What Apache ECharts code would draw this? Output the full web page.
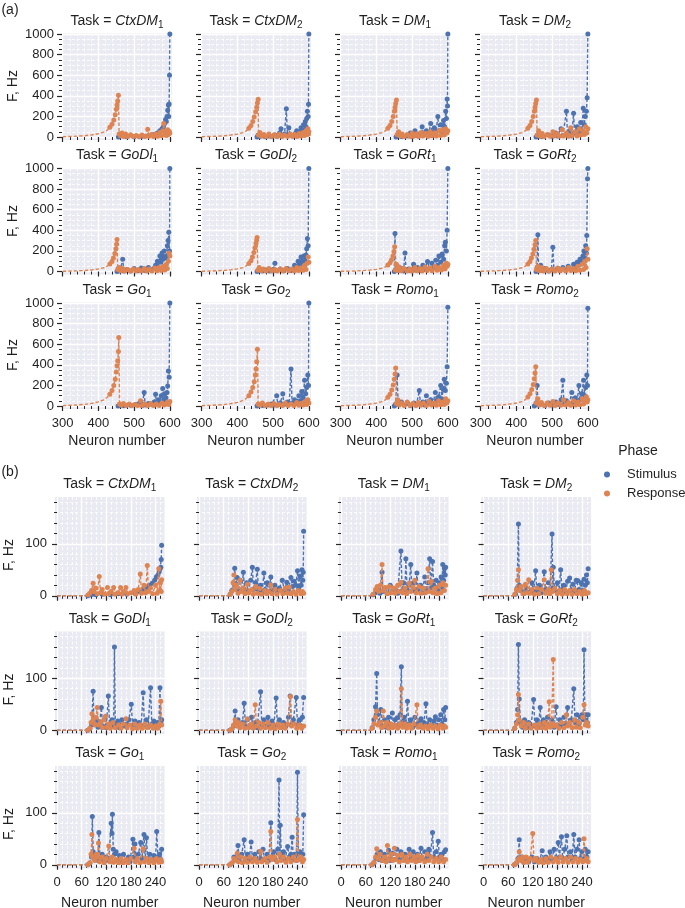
<!DOCTYPE html>
<html><head><meta charset="utf-8">
<script src="https://cdn.jsdelivr.net/npm/echarts@6/dist/echarts.min.js"></script>
<style>html,body{margin:0;padding:0;background:#fff}#c{width:685px;height:908px}</style>
</head><body><div id="c"></div>
<script>
// ---------- DATA ----------
const taskNames = [['CtxDM','1'],['CtxDM','2'],['DM','1'],['DM','2'],['GoDl','1'],['GoDl','2'],['GoRt','1'],['GoRt','2'],['Go','1'],['Go','2'],['Romo','1'],['Romo','2']];
const phaseNames = ['Stimulus','Response'];

const aXMajor = [300,400,500,600];
const aXMinor = [320,340,360,380,420,440,460,480,520,540,560,580];
const aYMajor = [0,200,400,600,800,1000];
const aYMinor = [50,100,150,250,300,350,450,500,550,650,700,750,850,900,950];
const bXMajor = [0,60,120,180,240];
const bXMinor = [12,24,36,48,72,84,96,108,132,144,156,168,192,204,216,228,252];
const bYMajor = [0,100];
const bYMinor = [20,40,60,80,120,140,160,180];

// panel (a): [neuron, F]
const a_CtxDM1_stim = [[456,0],[480,2],[500,3],[520,5],[540,12],[555,25],[565,40],[572,60],[578,80],[582,100],[585,130],[588,170],[590,150],[592,200],[594,260],[596,310],[597,200],[598,320],[599,600],[600,1000]];
const a_CtxDM1_resp = [[300,3],[330,6],[360,12],[380,20],[400,32],[415,48],[425,68],[432,95],[438,125],[443,165],[447,215],[450,270],[452,310],[454,350],[456,405],[458,30],[462,12],[466,40],[470,6],[476,30],[482,5],[490,22],[498,4],[506,15],[514,3],[522,20],[530,5],[538,75],[541,8],[548,25],[554,4],[560,30],[566,8],[572,45],[576,12],[580,60],[583,130],[585,20],[588,55],[591,15],[594,70],[596,25],[598,55],[600,40]];
const a_CtxDM2_stim = [[455,0],[458,20],[462,5],[470,15],[478,3],[488,10],[496,4],[505,20],[512,8],[518,40],[522,80],[525,10],[532,30],[537,275],[540,15],[544,90],[547,20],[555,10],[562,35],[566,60],[570,20],[575,50],[578,90],[582,40],[585,120],[588,70],[590,150],[592,100],[594,180],[596,250],[598,200],[599,317],[600,1000]];
const a_CtxDM2_resp = [[300,3],[330,6],[360,11],[380,18],[400,28],[415,42],[425,60],[432,85],[438,112],[443,150],[447,195],[451,245],[454,290],[456,330],[458,366],[459,20],[463,45],[467,8],[474,25],[480,5],[488,30],[495,6],[503,22],[510,4],[518,28],[525,6],[532,20],[540,4],[548,30],[554,8],[560,25],[567,6],[573,35],[578,10],[584,45],[588,15],[592,60],[595,25],[597,80],[599,30],[600,50]];
const a_DM1_stim = [[455,0],[470,5],[485,10],[495,40],[500,8],[508,60],[512,15],[520,30],[528,100],[532,20],[540,60],[545,10],[552,130],[556,40],[562,90],[566,20],[572,200],[575,60],[580,120],[584,50],[588,160],[591,100],[594,250],[596,180],[598,370],[599,300],[600,1000]];
const a_DM1_resp = [[300,3],[330,6],[360,11],[380,18],[400,28],[415,42],[425,60],[432,85],[438,112],[443,150],[447,200],[450,250],[452,290],[454,325],[456,360],[458,25],[462,50],[466,10],[472,30],[478,5],[486,25],[494,6],[500,40],[504,8],[512,30],[518,6],[525,45],[530,10],[538,35],[544,8],[550,50],[555,12],[562,40],[568,10],[575,60],[580,15],[585,70],[590,20],[594,80],[597,40],[600,60]];
const a_DM2_stim = [[455,0],[470,5],[490,20],[500,8],[510,40],[515,10],[525,80],[530,15],[540,250],[543,20],[550,60],[555,10],[560,230],[563,40],[570,100],[574,30],[580,140],[583,60],[587,280],[590,120],[593,200],[596,250],[598,380],[600,1000]];
const a_DM2_resp = [[300,3],[330,6],[360,11],[380,18],[400,28],[415,42],[425,60],[432,85],[438,112],[443,150],[447,200],[450,250],[452,290],[454,325],[456,360],[458,20],[462,60],[466,8],[472,35],[478,5],[486,25],[494,8],[502,50],[506,10],[514,35],[520,8],[528,70],[532,10],[540,40],[546,8],[552,90],[556,15],[564,50],[570,10],[576,80],[580,20],[586,60],[590,25],[594,100],[597,40],[600,80]];
const a_GoDl1_stim = [[452,0],[456,30],[460,5],[468,120],[471,5],[480,20],[490,5],[500,30],[510,8],[520,35],[530,10],[540,40],[548,15],[555,30],[560,60],[565,100],[568,40],[572,150],[575,90],[578,180],[581,120],[584,200],[587,130],[590,150],[593,250],[595,300],[597,380],[599,200],[600,1000]];
const a_GoDl1_resp = [[300,2],[330,5],[360,9],[380,15],[400,24],[415,36],[425,52],[432,72],[438,98],[442,130],[446,175],[449,220],[451,265],[452,310],[454,20],[458,40],[462,8],[468,30],[474,5],[482,20],[490,4],[498,25],[505,6],[512,20],[520,4],[528,30],[535,6],[542,25],[550,5],[558,35],[564,8],[570,40],[576,10],[582,50],[586,15],[590,70],[593,30],[596,100],[598,180],[600,150]];
const a_GoDl2_stim = [[455,0],[470,5],[480,15],[490,4],[500,20],[505,80],[508,10],[520,25],[530,8],[540,30],[550,10],[560,60],[565,30],[570,100],[574,60],[578,140],[582,90],[586,150],[589,110],[592,160],[594,220],[596,320],[598,250],[600,1000]];
const a_GoDl2_resp = [[300,2],[330,5],[360,10],[380,16],[400,26],[415,38],[425,55],[432,78],[438,105],[442,140],[446,185],[449,230],[452,275],[454,305],[455,330],[457,15],[461,40],[466,8],[472,25],[480,5],[488,30],[496,6],[504,20],[512,4],[520,25],[528,6],[536,30],[544,8],[552,25],[560,6],[566,40],[572,10],[578,35],[584,12],[588,60],[592,20],[595,80],[598,140],[600,90]];
const a_GoRt1_stim = [[450,0],[452,370],[454,20],[458,50],[462,10],[470,30],[476,5],[480,180],[483,10],[490,25],[497,8],[504,70],[508,15],[515,40],[522,10],[530,60],[535,20],[543,97],[548,30],[555,80],[560,40],[566,110],[571,60],[575,150],[580,90],[584,170],[588,120],[591,250],[593,285],[596,200],[598,400],[600,1000]];
const a_GoRt1_resp = [[300,2],[330,4],[360,8],[380,13],[400,21],[415,32],[425,45],[432,62],[438,85],[442,112],[446,150],[449,195],[451,240],[453,15],[456,70],[459,10],[464,45],[470,8],[478,30],[486,5],[494,25],[500,6],[508,40],[514,8],[522,30],[528,6],[536,45],[542,10],[550,35],[556,8],[564,50],[570,12],[576,40],[582,15],[588,60],[592,25],[596,80],[598,50],[600,70]];
const a_GoRt2_stim = [[455,0],[458,40],[460,356],[462,20],[468,60],[472,10],[480,30],[490,5],[498,20],[502,236],[505,10],[515,30],[522,8],[530,40],[538,15],[545,50],[552,20],[560,70],[565,40],[570,90],[574,60],[578,120],[582,80],[586,150],[589,200],[592,130],[594,250],[596,180],[597,350],[599,900],[600,1000]];
const a_GoRt2_resp = [[300,2],[330,5],[360,9],[380,15],[400,24],[415,36],[425,52],[432,72],[438,98],[442,130],[446,170],[449,215],[452,260],[454,300],[456,20],[460,50],[464,8],[470,40],[476,6],[484,30],[492,5],[500,25],[508,6],[516,35],[522,8],[530,25],[538,5],[546,40],[552,10],[560,30],[566,8],[572,50],[578,12],[584,70],[588,20],[592,100],[595,40],[598,220],[600,120]];
const a_Go1_stim = [[455,0],[470,3],[490,8],[505,15],[515,30],[522,5],[528,130],[531,10],[540,25],[550,15],[556,40],[560,113],[563,20],[568,60],[572,30],[576,100],[580,170],[583,60],[586,120],[589,80],[592,130],[594,195],[596,340],[598,280],[600,1000]];
const a_Go1_resp = [[300,4],[330,8],[360,15],[380,25],[400,40],[415,60],[425,85],[432,115],[438,150],[443,200],[447,260],[450,330],[452,390],[454,440],[456,530],[457,664],[459,20],[464,8],[470,25],[478,4],[486,20],[494,5],[502,15],[510,4],[518,50],[522,6],[530,20],[538,4],[546,25],[554,5],[562,20],[570,6],[578,30],[584,10],[590,20],[594,40],[597,15],[600,45]];
const a_Go2_stim = [[455,0],[470,5],[485,10],[495,20],[500,8],[510,100],[513,10],[520,30],[527,120],[530,15],[540,40],[545,20],[550,360],[553,30],[560,60],[565,25],[572,100],[576,50],[580,140],[584,80],[588,250],[591,120],[594,180],[597,300],[599,200],[600,1000]];
const a_Go2_resp = [[300,3],[330,7],[360,13],[380,22],[400,35],[415,52],[425,75],[432,100],[438,135],[443,180],[447,235],[450,300],[452,360],[454,430],[456,550],[458,20],[463,8],[470,30],[478,5],[486,20],[494,4],[502,25],[510,6],[518,15],[526,4],[534,30],[542,6],[550,20],[558,5],[566,35],[572,8],[578,25],[584,10],[590,45],[594,15],[597,60],[600,30]];
const a_Romo1_stim = [[450,0],[454,20],[458,300],[461,15],[470,40],[478,10],[488,25],[495,5],[505,30],[512,10],[520,150],[523,20],[530,40],[535,10],[540,100],[544,30],[552,60],[558,20],[565,130],[568,50],[574,90],[580,200],[583,70],[587,160],[590,260],[593,150],[596,220],[598,380],[600,960]];
const a_Romo1_resp = [[300,3],[330,6],[360,11],[380,18],[400,28],[415,42],[425,60],[432,85],[438,115],[443,155],[447,205],[450,260],[452,310],[454,370],[456,25],[460,60],[464,10],[470,30],[478,6],[486,40],[494,8],[502,25],[510,5],[518,35],[524,8],[532,30],[540,6],[548,45],[554,10],[562,30],[568,8],[574,50],[580,12],[586,40],[590,15],[594,70],[597,30],[600,50]];
const a_Romo2_stim = [[450,0],[455,30],[458,200],[461,10],[470,20],[480,5],[490,30],[500,10],[510,40],[518,15],[525,60],[530,250],[533,20],[540,50],[548,20],[555,130],[558,30],[565,80],[570,40],[575,200],[578,60],[583,120],[588,250],[591,100],[594,180],[597,300],[599,200],[600,950]];
const a_Romo2_resp = [[300,3],[330,6],[360,11],[380,18],[400,29],[415,43],[425,62],[432,88],[438,118],[443,160],[447,210],[450,265],[452,320],[454,380],[456,30],[460,70],[464,10],[470,35],[478,5],[486,30],[494,8],[502,45],[508,6],[516,30],[524,8],[532,60],[538,10],[546,35],[552,8],[560,50],[566,10],[572,40],[578,12],[584,70],[588,20],[592,50],[596,90],[598,40],[600,60]];

// panel (b): [neuron, F]
const b_CtxDM1_stim = [[0,0],[75,0],[82,2],[86,6],[88,3],[95,2],[110,3],[130,2],[150,4],[170,3],[190,5],[200,8],[210,12],[218,16],[225,20],[232,24],[238,30],[242,36],[246,40],[249,46],[251,52],[253,55],[254,70],[255,97]];
const b_CtxDM1_resp = [[0,0],[70,0],[76,2],[80,5],[84,10],[88,24],[90,8],[94,15],[98,4],[103,37],[106,6],[110,12],[116,3],[123,16],[126,4],[132,8],[138,16],[141,3],[148,6],[155,16],[158,3],[162,8],[168,16],[172,4],[180,6],[188,10],[192,3],[198,12],[203,42],[206,5],[212,20],[216,6],[220,58],[223,8],[228,15],[233,4],[240,20],[244,5],[248,52],[250,10],[252,25],[254,8],[255,31]];
const b_CtxDM2_stim = [[0,0],[72,0],[76,3],[80,10],[84,25],[87,53],[89,20],[93,35],[96,8],[100,30],[104,10],[108,45],[111,12],[116,25],[120,8],[126,30],[130,55],[133,12],[138,25],[142,51],[145,10],[150,20],[154,5],[158,44],[161,12],[166,25],[170,8],[175,36],[178,10],[185,20],[190,6],[196,15],[203,30],[208,10],[214,26],[218,12],[224,35],[228,18],[232,28],[236,20],[240,48],[243,15],[246,38],[249,20],[251,50],[253,30],[254,45],[255,124]];
const b_CtxDM2_resp = [[0,0],[72,0],[76,3],[80,8],[83,25],[85,40],[87,12],[91,20],[95,5],[100,30],[103,8],[108,15],[112,4],[118,22],[121,6],[128,12],[132,3],[138,18],[142,5],[148,14],[152,3],[160,10],[165,4],[170,8],[175,21],[178,4],[185,12],[190,3],[198,10],[204,4],[210,15],[215,5],[220,17],[224,4],[230,8],[236,3],[242,10],[248,4],[252,8],[255,5]];
const b_DM1_stim = [[0,0],[72,0],[78,2],[84,6],[90,10],[95,5],[100,45],[102,8],[108,15],[114,5],[120,20],[126,8],[132,12],[138,5],[146,86],[149,10],[152,25],[156,8],[158,71],[161,12],[166,20],[170,60],[173,10],[178,25],[182,8],[185,44],[188,12],[194,20],[198,6],[204,36],[208,10],[212,25],[216,71],[219,15],[223,66],[226,20],[232,30],[236,10],[240,25],[244,36],[246,15],[248,60],[250,30],[252,52],[254,40],[255,55]];
const b_DM1_resp = [[0,0],[72,0],[78,3],[84,12],[88,18],[92,8],[96,20],[100,60],[102,10],[108,16],[112,4],[118,18],[122,6],[128,15],[132,5],[138,20],[142,8],[146,26],[150,6],[156,15],[160,4],[166,24],[170,8],[176,16],[180,30],[183,6],[190,18],[194,5],[200,15],[206,6],[212,52],[215,8],[220,28],[224,6],[230,15],[234,4],[240,20],[244,6],[248,25],[252,10],[255,20]];
const b_DM2_stim = [[0,0],[72,0],[78,3],[82,15],[85,138],[87,20],[92,10],[98,4],[104,15],[110,6],[118,25],[122,8],[127,48],[130,10],[136,20],[140,6],[148,46],[151,12],[158,25],[162,8],[167,119],[169,15],[170,55],[173,10],[180,25],[184,8],[188,50],[191,12],[196,20],[200,8],[205,28],[210,34],[213,10],[218,22],[222,8],[226,30],[230,29],[233,12],[238,25],[242,10],[245,32],[248,20],[251,40],[253,25],[255,52]];
const b_DM2_resp = [[0,0],[72,0],[76,3],[80,12],[83,30],[85,50],[87,10],[92,18],[96,4],[102,22],[106,6],[110,31],[113,5],[118,12],[124,3],[130,15],[135,4],[142,12],[148,31],[151,5],[158,12],[162,4],[165,50],[168,8],[174,14],[180,4],[186,10],[192,3],[198,12],[204,4],[210,10],[216,3],[222,12],[228,4],[234,8],[240,3],[246,10],[250,4],[255,6]];
const b_GoDl1_stim = [[0,0],[75,0],[80,3],[84,10],[88,75],[90,12],[96,20],[100,6],[104,15],[108,44],[111,8],[116,20],[120,5],[125,66],[128,10],[134,20],[138,8],[140,160],[142,12],[148,18],[152,5],[158,20],[164,8],[170,12],[175,20],[181,50],[184,10],[190,18],[195,5],[200,15],[205,8],[210,72],[213,10],[218,20],[222,6],[228,82],[231,12],[236,18],[240,6],[245,15],[248,8],[251,82],[253,15],[255,20]];
const b_GoDl1_resp = [[0,0],[75,0],[80,4],[83,15],[85,32],[88,20],[92,10],[95,25],[98,44],[101,10],[106,15],[110,5],[114,20],[118,27],[121,6],[126,12],[130,4],[136,15],[142,5],[150,10],[156,4],[162,12],[168,22],[171,5],[178,10],[184,3],[190,12],[196,4],[202,10],[208,4],[214,12],[220,5],[228,10],[234,4],[240,8],[246,4],[250,12],[253,56],[255,10]];
const b_GoDl2_stim = [[0,0],[75,0],[80,2],[84,8],[88,37],[90,10],[95,20],[100,5],[106,15],[110,52],[113,8],[118,20],[122,6],[128,25],[132,8],[138,15],[142,5],[150,74],[153,10],[158,20],[162,6],[168,25],[172,8],[178,18],[182,6],[188,62],[191,10],[196,20],[200,6],[206,15],[212,8],[218,25],[222,66],[225,10],[230,20],[237,63],[240,10],[245,20],[249,8],[252,25],[255,63]];
const b_GoDl2_resp = [[0,0],[75,0],[80,3],[84,10],[88,20],[92,8],[96,15],[100,5],[106,12],[112,4],[118,22],[121,6],[128,12],[132,4],[137,49],[140,8],[146,15],[150,4],[156,12],[162,5],[168,15],[174,4],[180,10],[186,3],[192,12],[198,5],[204,10],[210,4],[216,12],[223,65],[226,8],[232,12],[238,4],[244,10],[250,4],[255,8]];
const b_GoRt1_stim = [[0,0],[72,0],[76,5],[80,20],[84,45],[87,109],[89,30],[93,15],[97,40],[100,8],[106,20],[110,6],[116,25],[120,10],[125,33],[128,8],[132,20],[137,24],[140,8],[144,30],[147,122],[149,15],[154,25],[158,8],[162,56],[165,12],[170,20],[175,6],[180,25],[185,10],[190,18],[195,22],[198,6],[202,15],[207,51],[210,10],[216,20],[222,8],[226,18],[230,26],[233,10],[238,20],[243,30],[246,12],[250,40],[253,20],[255,44]];
const b_GoRt1_resp = [[0,0],[72,0],[76,4],[80,12],[84,25],[87,37],[90,10],[95,15],[99,5],[103,37],[106,8],[112,15],[116,4],[122,12],[126,5],[132,10],[138,4],[144,12],[147,80],[150,6],[156,12],[160,4],[166,10],[172,4],[178,12],[185,49],[188,6],[194,10],[200,4],[206,8],[212,3],[218,10],[224,4],[230,8],[236,3],[242,10],[248,4],[252,8],[255,6]];
const b_GoRt2_stim = [[0,0],[72,0],[76,4],[80,15],[83,40],[85,165],[87,60],[90,15],[95,6],[100,20],[105,5],[110,15],[116,8],[122,59],[125,8],[130,20],[134,6],[138,44],[141,10],[146,20],[150,6],[156,25],[160,8],[166,20],[172,6],[177,45],[180,10],[186,20],[190,8],[196,25],[200,10],[205,44],[208,12],[214,20],[220,80],[223,15],[228,30],[232,12],[236,25],[240,30],[243,20],[245,155],[247,20],[250,30],[253,15],[255,30]];
const b_GoRt2_resp = [[0,0],[72,0],[76,4],[80,12],[83,30],[85,69],[87,20],[92,8],[98,15],[102,4],[110,12],[116,4],[124,10],[130,4],[136,12],[142,5],[148,15],[152,4],[156,10],[160,55],[163,6],[166,12],[170,136],[172,8],[178,10],[184,4],[190,15],[196,5],[202,30],[205,8],[210,15],[216,5],[222,20],[226,6],[232,15],[236,5],[242,25],[245,49],[248,10],[252,15],[255,8]];
const b_Go1_stim = [[0,0],[75,0],[80,3],[84,15],[86,93],[88,25],[92,10],[96,20],[100,8],[102,62],[105,10],[110,20],[115,6],[120,15],[126,8],[132,80],[134,60],[135,97],[137,30],[140,20],[144,25],[148,8],[152,18],[156,6],[162,20],[168,8],[174,15],[178,6],[185,49],[187,15],[190,40],[193,10],[198,20],[204,43],[207,12],[212,58],[215,10],[218,52],[221,10],[226,20],[230,8],[236,18],[240,10],[243,64],[246,15],[250,20],[253,10],[255,30]];
const b_Go1_resp = [[0,0],[75,0],[80,4],[83,20],[85,58],[87,15],[92,8],[96,20],[98,15],[101,42],[104,6],[110,15],[115,4],[120,12],[126,36],[129,6],[134,15],[138,5],[144,10],[150,4],[156,12],[162,4],[168,10],[174,4],[180,12],[188,32],[191,6],[196,12],[202,4],[210,31],[213,6],[218,12],[224,4],[230,10],[236,4],[242,12],[248,5],[252,10],[255,6]];
const b_Go2_stim = [[0,0],[75,0],[80,3],[85,15],[90,10],[95,37],[98,8],[104,20],[110,48],[113,10],[118,20],[122,8],[127,44],[130,10],[136,20],[140,8],[146,25],[150,12],[156,30],[160,10],[166,20],[170,8],[175,81],[177,15],[182,25],[186,10],[192,30],[195,163],[197,20],[198,76],[201,12],[206,25],[210,10],[216,35],[220,15],[224,20],[227,53],[230,10],[234,20],[238,8],[240,178],[242,20],[246,25],[250,10],[253,20],[255,96]];
const b_Go2_resp = [[0,0],[75,0],[80,4],[85,12],[90,8],[93,22],[96,6],[102,15],[106,4],[112,12],[118,5],[124,15],[130,6],[136,12],[142,5],[150,26],[153,6],[160,12],[166,5],[172,15],[175,64],[178,10],[184,15],[190,6],[196,20],[200,8],[206,15],[212,5],[218,12],[224,6],[230,15],[236,8],[240,87],[243,10],[248,15],[252,6],[255,10]];
const b_Romo1_stim = [[0,0],[75,0],[80,3],[85,12],[88,20],[92,10],[96,25],[100,8],[106,20],[110,10],[116,28],[120,8],[126,22],[130,10],[136,30],[140,12],[146,25],[150,10],[156,20],[160,8],[166,30],[170,12],[176,25],[180,10],[186,20],[190,8],[195,32],[198,12],[204,25],[208,10],[214,30],[218,15],[223,62],[226,15],[232,25],[237,45],[240,15],[245,20],[248,10],[252,25],[255,29]];
const b_Romo1_resp = [[0,0],[75,0],[80,5],[84,15],[87,31],[90,12],[95,20],[100,8],[106,15],[110,6],[113,37],[116,10],[122,20],[126,8],[130,32],[133,10],[138,18],[142,6],[148,20],[152,8],[158,15],[162,6],[168,20],[172,8],[178,15],[182,6],[188,18],[192,8],[198,15],[204,6],[210,20],[214,8],[220,15],[226,6],[232,12],[238,6],[244,15],[250,6],[255,10]];
const b_Romo2_stim = [[0,0],[75,0],[80,3],[84,12],[87,48],[89,12],[94,15],[98,5],[104,12],[110,6],[118,15],[124,6],[130,12],[136,6],[143,27],[146,8],[152,15],[156,6],[162,25],[166,10],[172,30],[176,12],[182,43],[185,15],[190,54],[193,12],[198,30],[203,56],[206,15],[212,25],[216,10],[220,58],[223,15],[228,30],[233,48],[236,12],[240,25],[244,10],[248,30],[252,15],[255,25]];
const b_Romo2_resp = [[0,0],[75,0],[80,4],[84,10],[87,25],[90,8],[95,15],[98,5],[104,15],[108,5],[114,12],[120,60],[123,8],[128,12],[134,5],[140,10],[146,4],[152,12],[158,5],[164,15],[170,6],[176,12],[182,5],[188,15],[194,6],[200,12],[206,5],[212,15],[218,6],[224,12],[230,5],[236,10],[242,6],[245,50],[248,8],[252,12],[255,6]];

const aStim = [a_CtxDM1_stim,a_CtxDM2_stim,a_DM1_stim,a_DM2_stim,a_GoDl1_stim,a_GoDl2_stim,a_GoRt1_stim,a_GoRt2_stim,a_Go1_stim,a_Go2_stim,a_Romo1_stim,a_Romo2_stim];
const aResp = [a_CtxDM1_resp,a_CtxDM2_resp,a_DM1_resp,a_DM2_resp,a_GoDl1_resp,a_GoDl2_resp,a_GoRt1_resp,a_GoRt2_resp,a_Go1_resp,a_Go2_resp,a_Romo1_resp,a_Romo2_resp];
const bStim = [b_CtxDM1_stim,b_CtxDM2_stim,b_DM1_stim,b_DM2_stim,b_GoDl1_stim,b_GoDl2_stim,b_GoRt1_stim,b_GoRt2_stim,b_Go1_stim,b_Go2_stim,b_Romo1_stim,b_Romo2_stim];
const bResp = [b_CtxDM1_resp,b_CtxDM2_resp,b_DM1_resp,b_DM2_resp,b_GoDl1_resp,b_GoDl2_resp,b_GoRt1_resp,b_GoRt2_resp,b_Go1_resp,b_Go2_resp,b_Romo1_resp,b_Romo2_resp];

// ---------- LAYOUT / STYLE ----------
const FONT = '"Liberation Sans", Arial, Helvetica, sans-serif';
const TXT = '#1f1f1f';
const BLUE = '#4c72b0', ORANGE = '#dd8452';
const LAYOUT = {
  a: {lefts:[62,201,340,480], tops:[33.5,168,302.5], w:110, h:106.6, xmin:298, xmax:606, ymin:-30, ymax:1005,
      xMaj:aXMajor, xMin:aXMinor, yMaj:aYMajor, yMin:aYMinor, hideX:428, nameX:13, nameYs:[86,221,355], xNameY:441},
  b: {lefts:[55,197,339,481.5], tops:[497,631.5,766], w:109.5, h:102.4, xmin:-5, xmax:262, ymin:-7, ymax:190,
      xMaj:bXMajor, xMin:bXMinor, yMaj:bYMajor, yMin:bYMinor, hideX:74, nameX:9, nameYs:[555,689.5,824], xNameY:903}
};

const option = {animation:false, grid:[], xAxis:[], yAxis:[], series:[], graphic:[],
  legend:{data:phaseNames, orient:'vertical', left:599, top:463, icon:'circle', itemWidth:6, itemHeight:6, itemGap:6,
    textStyle:{fontSize:13, color:TXT, fontFamily:FONT, padding:[0,0,0,12]}}
};

function axisPair(kind, gi, min, max, maj, mnr, showLbl) {
  const base = {type:'value', gridIndex:gi, min:min, max:max, position: kind==='x'?'bottom':'left', axisLine:{show:false}, silent:true};
  return [
    Object.assign({}, base, {
      axisTick:{show:true, length:5, customValues:maj, lineStyle:{color:'#262626', width:1.2}},
      axisLabel:{show:showLbl, customValues:maj, fontSize:13, color:TXT, margin:8, fontFamily:FONT, formatter:function(v){return String(v);}},
      splitLine:{show:true, customValues:maj, lineStyle:{color:'#ffffff', width:1.3}}
    }),
    Object.assign({}, base, {
      axisTick:{show:true, length:3, customValues:mnr, lineStyle:{color:'#262626', width:1}},
      axisLabel:{show:false},
      splitLine:{show:true, customValues:mnr, lineStyle:{color:'#ffffff', width:0.8, type:[3,2]}}
    })
  ];
}

function txt(x, y, text, extra) {
  return Object.assign({type:'text', x:x, y:y, silent:true,
    style:{text:text, fill:TXT, font:'14px '+FONT, align:'center', verticalAlign:'middle', textAlign:'center', textVerticalAlign:'middle'}}, extra||{});
}

let gi = 0;
['a','b'].forEach(function(p){
  const L = LAYOUT[p];
  const stims = p==='a'?aStim:bStim, resps = p==='a'?aResp:bResp;
  for (let t=0;t<12;t++) {
    const r = Math.floor(t/4), c = t%4;
    const left = L.lefts[c], top = L.tops[r];
    option.grid.push({left:left, top:top, width:L.w, height:L.h, show:true, backgroundColor:'#eaeaf2', borderWidth:0});
    axisPair('x', gi, L.xmin, L.xmax, L.xMaj, L.xMin, r===2).forEach(a=>option.xAxis.push(a));
    axisPair('y', gi, L.ymin, L.ymax, L.yMaj, L.yMin, c===0).forEach(a=>option.yAxis.push(a));
    const hideX = L.hideX;
    const sz = function(v){ return v[0] < hideX ? 0 : 5; };
    [[stims[t], phaseNames[0], BLUE],[resps[t], phaseNames[1], ORANGE]].forEach(function(s, k){
      option.series.push({type:'line', name:s[1], xAxisIndex:2*gi, yAxisIndex:2*gi, data:s[0], z:2+k,
        symbol:'circle', symbolSize:sz, showSymbol:true, clip:false,
        itemStyle:{color:s[2]}, lineStyle:{color:s[2], width:1.4, type:[3.5,2]}, emphasis:{disabled:true}});
    });
    const nm = taskNames[t];
    option.graphic.push({type:'text', x:left+L.w/2, y:top-12.5, silent:true,
      style:{text:'{n|Task = }{i|'+nm[0]+'}{s|'+nm[1]+'}', align:'center', verticalAlign:'middle', textAlign:'center', textVerticalAlign:'middle', fill:TXT,
        rich:{n:{fontSize:14, fontFamily:FONT, lineHeight:18, verticalAlign:'middle', fill:TXT},
              i:{fontSize:14, fontFamily:FONT, fontStyle:'italic', lineHeight:18, verticalAlign:'middle', fill:TXT},
              s:{fontSize:10, fontFamily:FONT, lineHeight:10, verticalAlign:'bottom', fill:TXT}}}});
    if (r===2) option.graphic.push(txt(left+L.w/2, L.xNameY, 'Neuron number'));
    if (c===0) option.graphic.push(txt(L.nameX, L.nameYs[r], 'F, Hz', {rotation:Math.PI/2}));
    gi++;
  }
});
option.graphic.push(txt(10, 10, '(a)'));
option.graphic.push(txt(10, 472, '(b)'));
option.graphic.push(txt(638, 451, 'Phase'));

const chart = echarts.init(document.getElementById('c'), null, {renderer:'canvas'});
chart.setOption(option);
</script></body></html>
